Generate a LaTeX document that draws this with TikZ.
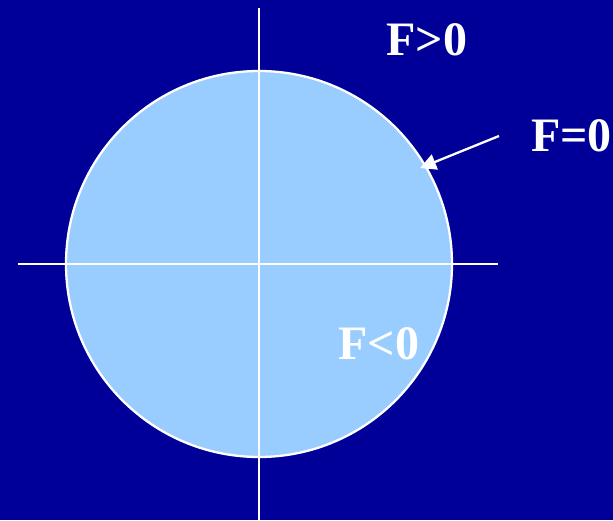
\documentclass[tikz,border=0pt]{standalone}
\usepackage{fontspec}
\setmainfont{Liberation Serif}
\usetikzlibrary{arrows.meta}
\definecolor{bgblue}{HTML}{000099}
\definecolor{discblue}{HTML}{99CCFF}
\begin{document}
\begin{tikzpicture}[x=1pt,y=-1pt,
  lbl/.style={text=white,font=\fontsize{48}{48}\selectfont\bfseries,inner sep=0pt},
  wline/.style={draw=white,line width=2.3pt}]
\fill[bgblue] (0,0) rectangle (613,520);
\useasboundingbox (0,0) rectangle (613,520);
\coordinate (c) at (259,264);
\fill[discblue] (c) circle (193);
\draw[wline] (c) circle (193);
\coordinate (hl) at (18,264);
\coordinate (hr) at (498,264);
\coordinate (vt) at (259,8);
\coordinate (vb) at (259,520);
\draw[wline] (hl) -- (hr);
\draw[wline] (vt) -- (vb);
\node[lbl] (fpos) at (427,40) {F>0};
\node[lbl,anchor=west] (fzero) at (531,136) {F=0};
\node[lbl] (fneg) at (379,344) {F<0};
\coordinate (as) at (499,136);
\coordinate (at) at (420,168);
\draw[wline,-{Triangle[length=16pt,width=16pt]}] (as) -- (at);
\end{tikzpicture}
\end{document}
